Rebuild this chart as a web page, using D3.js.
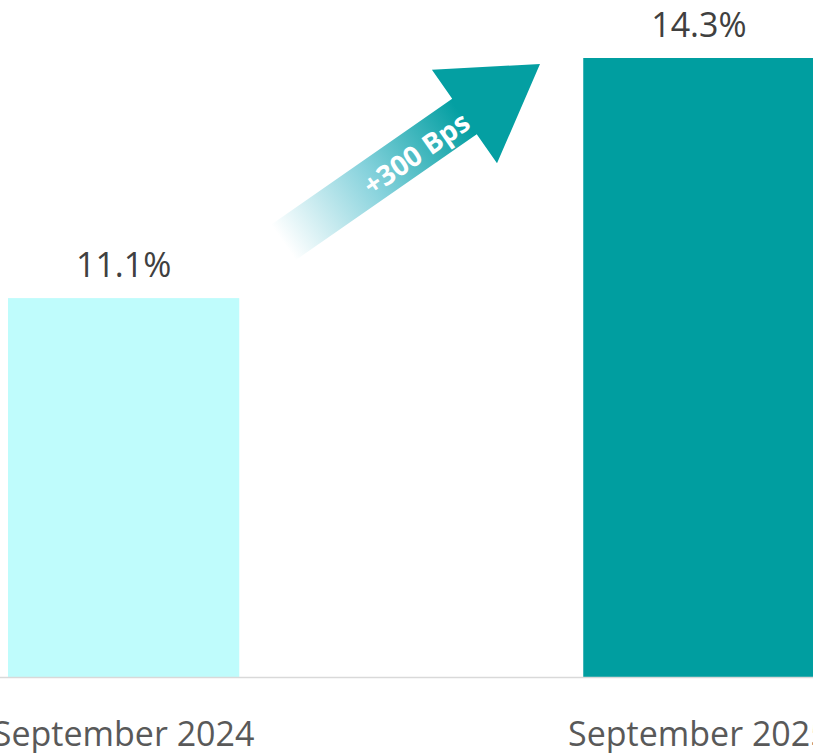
<!DOCTYPE html>
<html><head><meta charset="utf-8">
<script src="https://cdn.jsdelivr.net/npm/d3@7/dist/d3.min.js"></script>
<style>html,body{margin:0;padding:0;background:#fff;overflow:hidden}</style>
</head><body>
<svg id="chart" width="813" height="753"></svg>
<script>
const categories = ["September 2024", "September 2025"];
const values = [11.1, 14.3];
const valueLabels = ["11.1%", "14.3%"];
const barColors = ["#bffcfc", "#009ea0"];
const arrowLabel = "+300 Bps";

const W = 813, H = 753;
const svg = d3.select("#chart");
const baseY = 677;
const x = d3.scaleBand().domain(categories).range([8, 814.5]).paddingInner(0.598).paddingOuter(0);
const y = d3.scaleLinear().domain([6.05, 14.3]).range([baseY, 58]);
const font = "'Open Sans', 'Noto Sans', sans-serif";

svg.selectAll("rect.bar").data(values).enter().append("rect")
  .attr("class", "bar")
  .attr("x", (d, i) => x(categories[i]))
  .attr("width", x.bandwidth())
  .attr("y", d => y(d))
  .attr("height", d => baseY - y(d))
  .attr("fill", (d, i) => barColors[i]);

svg.append("line").attr("x1", 0).attr("x2", W).attr("y1", baseY + 0.5).attr("y2", baseY + 0.5)
  .attr("stroke", "#d9d9d9").attr("stroke-width", 1.5);

svg.selectAll("text.val").data(values).enter().append("text")
  .attr("class", "val")
  .attr("x", (d, i) => x(categories[i]) + x.bandwidth() / 2)
  .attr("y", d => y(d) - 21)
  .attr("text-anchor", "middle")
  .attr("font-family", font).attr("font-size", 34)
  .attr("fill", "#404040")
  .text((d, i) => valueLabels[i]);

svg.selectAll("text.cat").data(categories).enter().append("text")
  .attr("class", "cat")
  .attr("x", d => x(d) + x.bandwidth() / 2)
  .attr("y", 746)
  .attr("text-anchor", "middle")
  .attr("font-family", font).attr("font-size", 34)
  .attr("fill", "#595959")
  .text(d => d);

// Arrow annotation
const tail = [283.3, 242.5], tip = [540, 64];
const len = Math.hypot(tip[0] - tail[0], tip[1] - tail[1]);
const ang = Math.atan2(tip[1] - tail[1], tip[0] - tail[0]) * 180 / Math.PI;
const shaftW = 43, headW = 114, headL = 92;

const defs = svg.append("defs");
const grad = defs.append("linearGradient").attr("id", "ag")
  .attr("gradientUnits", "userSpaceOnUse")
  .attr("x1", 0).attr("y1", 0).attr("x2", len * 0.7).attr("y2", 0);
grad.append("stop").attr("offset", 0).attr("stop-color", "#ffffff").attr("stop-opacity", 1);
grad.append("stop").attr("offset", 0.5).attr("stop-color", "#86d2dc");
grad.append("stop").attr("offset", 1).attr("stop-color", "#049fa2");

const g = svg.append("g").attr("transform", `translate(${tail[0]},${tail[1]}) rotate(${ang})`);
const sb = len - headL;
g.append("path")
  .attr("d", `M0,${-shaftW/2} L${sb},${-shaftW/2} L${sb},${-headW/2} L${len},0 L${sb},${headW/2} L${sb},${shaftW/2} L0,${shaftW/2} Z`)
  .attr("fill", "url(#ag)");
g.append("text")
  .attr("x", 160).attr("y", 2)
  .attr("text-anchor", "middle").attr("dominant-baseline", "central")
  .attr("font-family", "'Open Sans', 'Liberation Sans', sans-serif").attr("font-weight", "bold")
  .attr("font-size", 28).attr("fill", "#ffffff")
  .text(arrowLabel);
</script>
</body></html>
